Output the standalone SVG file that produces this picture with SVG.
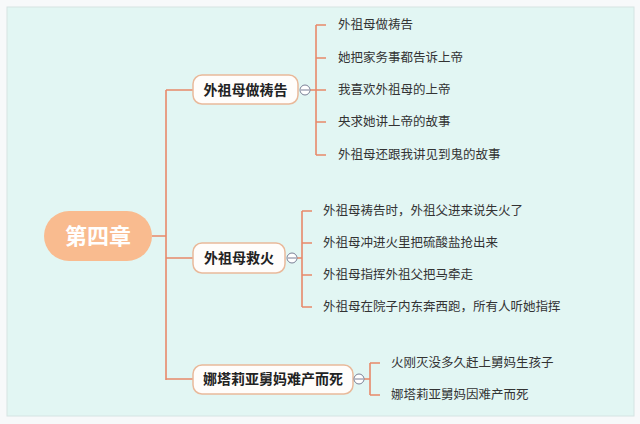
<svg xmlns="http://www.w3.org/2000/svg" width="640" height="424" viewBox="0 0 640 424">
<style>
.c{fill:none;stroke:#e8896a;stroke-width:1.6}
.b{fill:#fffdfb;stroke:#e9b99a;stroke-width:1.5}
.bt{font-family:"Noto Sans CJK SC",sans-serif;font-size:14px;font-weight:bold;fill:#222}
.t{font-family:"Noto Sans CJK SC",sans-serif;font-size:12.5px;fill:#333}
.o{fill:#fff;stroke:#7a7f95;stroke-width:1}
</style>
<rect width="640" height="424" fill="#f7f9fa"/>
<rect x="7" y="7" width="627" height="409" fill="#e2f6f3" stroke="#d5e4e2"/>
<g id="connectors">
<path class="c" d="M152 236H166M166 90V380M166 90H193M166 258H193M166 379H193"/>
<path class="c" d="M310 90H316M316 25V155M316 25H326M316 58H326M316 90H326M316 122H326M316 155H326"/>
<path class="c" d="M297 258H302M302 211V307M302 211H312M302 243H312M302 275H312M302 307H312"/>
<path class="c" d="M364 379H370M370 363V395M370 363H380M370 395H380"/>
</g>
<g id="root"><rect x="44" y="211" width="108" height="50" rx="25" fill="#f9bb8f"/><text x="98" y="244" text-anchor="middle" font-family="Noto Sans CJK SC,sans-serif" font-size="22" font-weight="bold" fill="#fff">第四章</text></g>
<g id="n1"><rect class="b" x="193" y="75" width="105" height="29" rx="9"/><text class="bt" x="245.5" y="95" text-anchor="middle">外祖母做祷告</text><circle class="o" cx="305" cy="90" r="5"/><path d="M301 90H309" stroke="#7a7f95"/></g>
<g id="n2"><rect class="b" x="193" y="243" width="92" height="30" rx="9"/><text class="bt" x="239" y="263" text-anchor="middle">外祖母救火</text><circle class="o" cx="292" cy="258" r="5"/><path d="M288 258H296" stroke="#7a7f95"/></g>
<g id="n3"><rect class="b" x="193" y="365" width="160" height="29" rx="9"/><text class="bt" x="273" y="384" text-anchor="middle">娜塔莉亚舅妈难产而死</text><circle class="o" cx="359" cy="379" r="5"/><path d="M355 379H363" stroke="#7a7f95"/></g>
<g id="leaves">
<text class="t" x="338" y="29">外祖母做祷告</text>
<text class="t" x="338" y="62">她把家务事都告诉上帝</text>
<text class="t" x="338" y="94">我喜欢外祖母的上帝</text>
<text class="t" x="338" y="126">央求她讲上帝的故事</text>
<text class="t" x="338" y="159">外祖母还跟我讲见到鬼的故事</text>
<text class="t" x="323" y="215">外祖母祷告时，外祖父进来说失火了</text>
<text class="t" x="323" y="247">外祖母冲进火里把硫酸盐抢出来</text>
<text class="t" x="323" y="279">外祖母指挥外祖父把马牵走</text>
<text class="t" x="323" y="311">外祖母在院子内东奔西跑，所有人听她指挥</text>
<text class="t" x="391" y="367">火刚灭没多久赶上舅妈生孩子</text>
<text class="t" x="391" y="399">娜塔莉亚舅妈因难产而死</text>
</g>
</svg>
